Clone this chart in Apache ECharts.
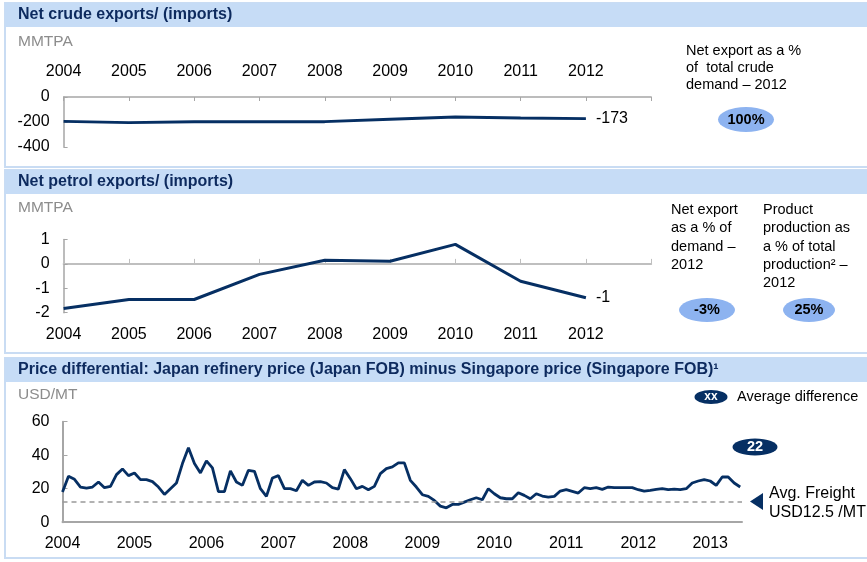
<!DOCTYPE html>
<html>
<head>
<meta charset="utf-8">
<script src="https://cdn.jsdelivr.net/npm/echarts@6/dist/echarts.min.js"></script>
<style>
  html, body { margin: 0; padding: 0; background: #fff; }
  #chart { width: 867px; height: 562px; }
</style>
</head>
<body>
<div id="chart"></div>
<script>
// years for the two annual panels (last slot is empty, axis runs one step further)
const years = ['2004', '2005', '2006', '2007', '2008', '2009', '2010', '2011', '2012', ''];
const crudeNet = [-195, -205, -198, -198, -197, -178, -160, -168, -173];
const petrolNet = [-1.83, -1.46, -1.46, -0.43, 0.15, 0.11, 0.8, -0.71, -1.39];

// monthly Japan FOB minus Singapore FOB, Jan 2004 .. Jun 2013 (USD/MT)
const priceDiff = [
  18, 27.4, 25.6, 21, 20.4, 21, 24, 20.6, 21.4, 28.4, 31.8, 27.8,       // 2004
  29.4, 25.4, 25.4, 24.2, 21, 16.6, 20, 23.4, 35, 44.4, 35, 29.4,       // 2005
  36.6, 32.4, 18.2, 18.2, 30.6, 24, 22, 31, 30.4, 20, 15.4, 26.4,       // 2006
  27.8, 20, 20, 18.8, 25, 22, 24, 24.2, 23.4, 20.6, 19.8, 31.4,         // 2007
  26, 20, 21.4, 19.4, 21.4, 29, 32, 33, 35.4, 35.4, 25, 21,             // 2008
  16.4, 15.4, 13, 9.6, 8.6, 10.6, 10.6, 12, 13.4, 14.6, 13.4, 20,       // 2009
  17, 14.6, 14, 14, 17.6, 16, 14, 17, 15.6, 15, 15.4, 18.6,             // 2010
  19.4, 18.4, 17.4, 20.6, 20, 20.6, 19.6, 21, 20.6, 20.6, 20.6, 20.6,   // 2011
  19.4, 18.6, 19, 19.6, 20, 19.4, 19.8, 19.4, 20, 23.4, 24.6, 25.4,     // 2012
  24.6, 22, 27, 27, 23.4, 21                                            // 2013
];
const avgFreight = 12.5;
const startYear = 2004;

const navy = '#062f63';
const band = '#c6dcf6';
const axisGray = '#a6a6a6';
const font = 'Liberation Sans, Arial, sans-serif';

const chart = echarts.init(document.getElementById('chart'));

function panel(y, h, title) {
  return [
    { type: 'rect', shape: { x: 5, y: y, width: 870, height: h },
      style: { fill: 'none', stroke: '#c9dcf3', lineWidth: 2 } },
    { type: 'rect', shape: { x: 5, y: y, width: 870, height: 24 },
      style: { fill: band } },
    { type: 'text', x: 18, y: y + 12,
      style: { text: title, fill: '#0d2a5e', font: 'bold 16px ' + font, verticalAlign: 'middle' } }
  ];
}

function txt(x, y, text, size, color, extra) {
  return Object.assign({ type: 'text', x: x, y: y,
    style: { text: text, fill: color || '#000', font: (size || 14.5) + 'px ' + font,
      verticalAlign: 'middle', lineHeight: 18 } }, extra || {});
}

function oval(cx, cy, rx, ry, fill, label, color, size) {
  return [
    { type: 'circle', x: cx, y: cy, scaleX: rx / ry, shape: { cx: 0, cy: 0, r: ry },
      style: { fill: fill } },
    { type: 'text', x: cx, y: cy,
      style: { text: label, fill: color, font: 'bold ' + size + 'px ' + font,
        align: 'center', verticalAlign: 'middle' } }
  ];
}

const labelStyle = { color: '#000', fontSize: 16, fontFamily: font };

const options = {
  animation: false,
  graphic: [].concat(
    panel(3, 164, 'Net crude exports/ (imports)'),
    panel(170, 183, 'Net petrol exports/ (imports)'),
    panel(358, 200, 'Price differential: Japan refinery price (Japan FOB) minus Singapore price (Singapore FOB)\u00b9'),
    [
      txt(18, 42, 'MMTPA', 15.5, '#8c8c8c'),
      txt(18, 208, 'MMTPA', 15.5, '#8c8c8c'),
      txt(18, 395, 'USD/MT', 15.5, '#8c8c8c'),
      { type: 'text', x: 686, y: 42,
        style: { text: 'Net export as a %\nof  total crude\ndemand \u2013 2012', fill: '#000',
          font: '14.5px ' + font, lineHeight: 17 } },
      { type: 'text', x: 671, y: 201,
        style: { text: 'Net export\nas a % of\ndemand \u2013\n2012', fill: '#000',
          font: '14.5px ' + font, lineHeight: 18.3 } },
      { type: 'text', x: 763, y: 201,
        style: { text: 'Product\nproduction as\na % of total\nproduction\u00b2 \u2013\n2012', fill: '#000',
          font: '14.5px ' + font, lineHeight: 18.3 } },
      txt(737, 397, 'Average difference', 14.5),
      txt(769, 494, 'Avg. Freight', 16),
      txt(769, 513, 'USD12.5 /MT', 16),
      { type: 'polygon', shape: { points: [[750, 501.5], [763, 493], [763, 510]] },
        style: { fill: navy } }
    ],
    oval(746, 119.5, 28, 12.5, '#8db3f0', '100%', '#000', 14.5),
    oval(707, 310, 28, 12, '#8db3f0', '-3%', '#000', 14.5),
    oval(809, 310, 26, 12, '#8db3f0', '25%', '#000', 14.5),
    oval(711, 397, 16.5, 7, navy, 'xx', '#fff', 12),
    oval(755, 447, 22.5, 8.5, navy, '22', '#fff', 14.5)
  ),
  grid: [
    { left: 63.6, top: 97, width: 587.6, height: 50 },
    { left: 63.6, top: 239.5, width: 587.6, height: 73.2 },
    { left: 62.5, top: 421.7, width: 679.5, height: 100.5 }
  ],
  xAxis: [
    {
      gridIndex: 0, type: 'category', data: years, boundaryGap: false, position: 'top',
      axisLine: { lineStyle: { color: axisGray, width: 1.5 } },
      axisTick: { inside: true, length: 4, lineStyle: { color: axisGray } },
      axisLabel: Object.assign({ margin: 17 }, labelStyle)
    },
    {
      gridIndex: 1, type: 'category', data: years, boundaryGap: false, position: 'bottom',
      axisLine: { show: false, onZero: false },
      axisTick: { show: false },
      axisLabel: Object.assign({ margin: 14 }, labelStyle)
    },
    {
      gridIndex: 1, type: 'category', data: years, boundaryGap: false, position: 'bottom',
      axisLine: { onZero: true, lineStyle: { color: '#bfbfbf', width: 2 } },
      axisTick: { inside: true, length: 5, lineStyle: { color: '#bfbfbf' } },
      axisLabel: { show: false }
    },
    {
      gridIndex: 2, type: 'value', min: 0, max: 113.3, interval: 12,
      splitLine: { show: false },
      axisLine: { onZero: false, lineStyle: { color: axisGray, width: 2 } },
      axisTick: { show: false },
      axisLabel: Object.assign({
        margin: 13,
        formatter: v => (v % 12 === 0 ? String(startYear + v / 12) : '')
      }, labelStyle)
    }
  ],
  yAxis: [
    {
      gridIndex: 0, type: 'value', min: -400, max: 0, interval: 200,
      splitLine: { show: false },
      axisLine: { show: true, lineStyle: { color: axisGray, width: 1.5 } },
      axisTick: { show: true, inside: true, length: 4, lineStyle: { color: axisGray } },
      axisLabel: Object.assign({ margin: 14 }, labelStyle)
    },
    {
      gridIndex: 1, type: 'value', min: -2, max: 1, interval: 1,
      splitLine: { show: false },
      axisLine: { show: true, onZero: false, lineStyle: { color: axisGray, width: 1.5 } },
      axisTick: { show: true, inside: true, length: 4, lineStyle: { color: axisGray } },
      axisLabel: Object.assign({ margin: 14 }, labelStyle)
    },
    {
      gridIndex: 2, type: 'value', min: 0, max: 60, interval: 20,
      splitLine: { show: false },
      axisLine: { show: true, lineStyle: { color: axisGray, width: 2 } },
      axisTick: { show: true, inside: true, length: 5, lineStyle: { color: axisGray } },
      axisLabel: Object.assign({ margin: 13 }, labelStyle)
    }
  ],
  series: [
    {
      name: 'Net crude', type: 'line', xAxisIndex: 0, yAxisIndex: 0,
      data: crudeNet, showSymbol: false, symbol: 'none',
      lineStyle: { color: navy, width: 3 },
      endLabel: { show: true, distance: 10, formatter: p => String(Math.round(p.value)),
        color: '#000', fontSize: 16, fontFamily: font }
    },
    {
      name: 'Net petrol', type: 'line', xAxisIndex: 1, yAxisIndex: 1,
      data: petrolNet, showSymbol: false, symbol: 'none',
      lineStyle: { color: navy, width: 3 },
      endLabel: { show: true, distance: 10, formatter: p => String(Math.round(p.value)),
        color: '#000', fontSize: 16, fontFamily: font }
    },
    {
      name: 'Price differential', type: 'line', xAxisIndex: 3, yAxisIndex: 2,
      data: priceDiff.map((v, i) => [i, v]), showSymbol: false, symbol: 'none',
      lineStyle: { color: navy, width: 2.8 },
      markLine: {
        silent: true, symbol: 'none', label: { show: false },
        lineStyle: { color: '#999', type: [5, 4], width: 1.5 },
        data: [[{ coord: [0, avgFreight] }, { coord: [113.3, avgFreight] }]]
      }
    }
  ]
};

chart.setOption(options);
</script>
</body>
</html>
